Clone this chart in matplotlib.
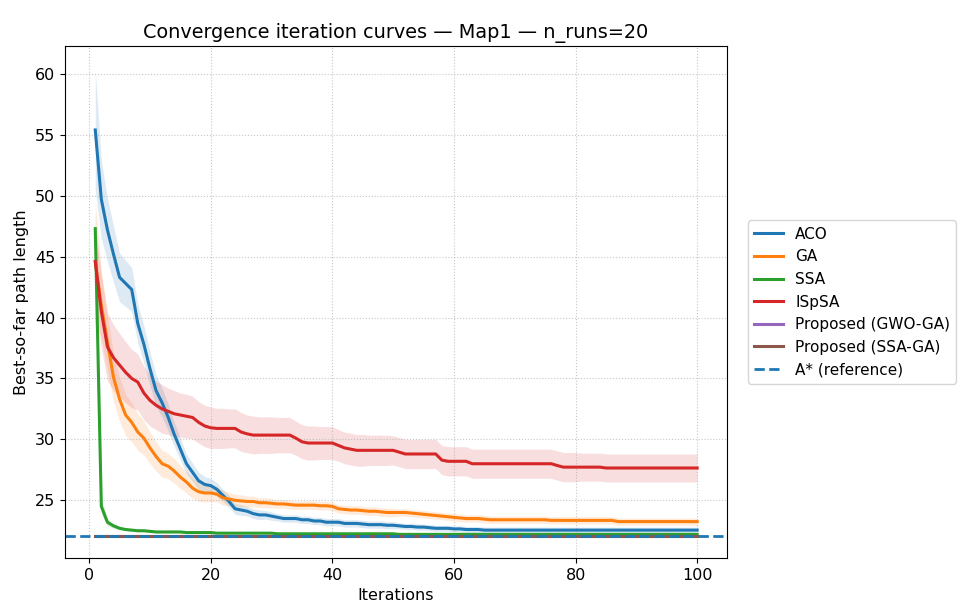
import numpy as np
import matplotlib
matplotlib.use("Agg")
import matplotlib.pyplot as plt

# iterations 1..100
iterations = list(range(1, 101))

# mean best-so-far path length per iteration
aco_mean = [
    55.4, 49.7, 47.2, 45.2, 43.3, 42.8, 42.3, 39.5, 37.8, 35.8,
    34.0, 33.0, 31.8, 30.4, 29.2, 28.0, 27.3, 26.6, 26.3, 26.2,
    25.9, 25.4, 24.9, 24.3, 24.2, 24.1, 23.9, 23.8, 23.8, 23.7,
    23.6, 23.5, 23.5, 23.5, 23.4, 23.4, 23.3, 23.3, 23.2, 23.2,
    23.2, 23.1, 23.1, 23.1, 23.05, 23.0, 23.0, 23.0, 22.95, 22.95,
    22.9, 22.85, 22.85, 22.8, 22.8, 22.75, 22.7, 22.7, 22.7, 22.65,
    22.65, 22.6, 22.6, 22.6, 22.55, 22.55, 22.55, 22.55, 22.55, 22.55,
    22.55, 22.55, 22.55, 22.55, 22.55, 22.55, 22.55, 22.55, 22.55, 22.55,
    22.55, 22.55, 22.55, 22.55, 22.55, 22.55, 22.55, 22.55, 22.55, 22.55,
    22.55, 22.55, 22.55, 22.55, 22.55, 22.55, 22.55, 22.55, 22.55, 22.55,
]
ga_mean = [
    44.6, 41.0, 38.0, 35.1, 33.3, 32.0, 31.4, 30.6, 30.1, 29.3,
    28.6, 28.0, 27.8, 27.4, 26.9, 26.5, 26.0, 25.7, 25.6, 25.6,
    25.5, 25.2, 25.1, 25.0, 24.95, 24.9, 24.9, 24.8, 24.8, 24.75,
    24.7, 24.7, 24.65, 24.6, 24.6, 24.6, 24.6, 24.55, 24.55, 24.5,
    24.3, 24.25, 24.2, 24.2, 24.15, 24.1, 24.1, 24.05, 24.0, 24.0,
    24.0, 24.0, 23.95, 23.9, 23.85, 23.8, 23.75, 23.7, 23.65, 23.6,
    23.55, 23.5, 23.5, 23.5, 23.45, 23.4, 23.4, 23.4, 23.4, 23.4,
    23.4, 23.4, 23.4, 23.4, 23.4, 23.35, 23.35, 23.35, 23.35, 23.35,
    23.35, 23.35, 23.35, 23.35, 23.35, 23.35, 23.25, 23.25, 23.25, 23.25,
    23.25, 23.25, 23.25, 23.25, 23.25, 23.25, 23.25, 23.25, 23.25, 23.25,
]
ssa_mean = [
    47.3, 24.5, 23.2, 22.9, 22.7, 22.6, 22.55, 22.5, 22.5, 22.45,
    22.4, 22.4, 22.4, 22.4, 22.4, 22.35, 22.35, 22.35, 22.35, 22.35,
    22.3, 22.3, 22.3, 22.3, 22.3, 22.3, 22.3, 22.3, 22.3, 22.3,
    22.25, 22.25, 22.25, 22.25, 22.25, 22.25, 22.25, 22.25, 22.25, 22.25,
    22.25, 22.25, 22.25, 22.25, 22.25, 22.25, 22.25, 22.25, 22.25, 22.25,
    22.2, 22.2, 22.2, 22.2, 22.2, 22.2, 22.2, 22.2, 22.2, 22.2,
    22.2, 22.2, 22.2, 22.2, 22.2, 22.2, 22.2, 22.2, 22.2, 22.2,
    22.2, 22.2, 22.2, 22.2, 22.2, 22.2, 22.2, 22.2, 22.2, 22.2,
    22.2, 22.2, 22.2, 22.2, 22.2, 22.2, 22.2, 22.2, 22.2, 22.2,
    22.2, 22.2, 22.2, 22.2, 22.2, 22.2, 22.2, 22.2, 22.2, 22.2,
]
ispsa_mean = [
    44.6, 40.5, 37.6, 36.7, 36.1, 35.5, 35.0, 34.7, 33.8, 33.2,
    32.8, 32.5, 32.3, 32.1, 32.0, 31.9, 31.8, 31.4, 31.1, 30.95,
    30.9, 30.9, 30.9, 30.9, 30.6, 30.45, 30.35, 30.35, 30.35, 30.35,
    30.35, 30.35, 30.35, 30.1, 29.8, 29.7, 29.7, 29.7, 29.7, 29.7,
    29.5, 29.3, 29.2, 29.1, 29.1, 29.1, 29.1, 29.1, 29.1, 29.1,
    28.95, 28.8, 28.8, 28.8, 28.8, 28.8, 28.8, 28.3, 28.2, 28.2,
    28.2, 28.2, 28.0, 28.0, 28.0, 28.0, 28.0, 28.0, 28.0, 28.0,
    28.0, 28.0, 28.0, 28.0, 28.0, 28.0, 27.85, 27.72, 27.72, 27.72,
    27.72, 27.72, 27.72, 27.72, 27.65, 27.65, 27.65, 27.65, 27.65, 27.65,
    27.65, 27.65, 27.65, 27.65, 27.65, 27.65, 27.65, 27.65, 27.65, 27.65,
]
gwo_ga_mean = [
    22.1, 22.1, 22.1, 22.1, 22.1, 22.1, 22.1, 22.1, 22.1, 22.1,
    22.1, 22.1, 22.1, 22.1, 22.1, 22.1, 22.1, 22.1, 22.1, 22.1,
    22.1, 22.1, 22.1, 22.1, 22.1, 22.1, 22.1, 22.1, 22.1, 22.1,
    22.1, 22.1, 22.1, 22.1, 22.1, 22.1, 22.1, 22.1, 22.1, 22.1,
    22.1, 22.1, 22.1, 22.1, 22.1, 22.1, 22.1, 22.1, 22.1, 22.1,
    22.1, 22.1, 22.1, 22.1, 22.1, 22.1, 22.1, 22.1, 22.1, 22.1,
    22.1, 22.1, 22.1, 22.1, 22.1, 22.1, 22.1, 22.1, 22.1, 22.1,
    22.1, 22.1, 22.1, 22.1, 22.1, 22.1, 22.1, 22.1, 22.1, 22.1,
    22.1, 22.1, 22.1, 22.1, 22.1, 22.1, 22.1, 22.1, 22.1, 22.1,
    22.1, 22.1, 22.1, 22.1, 22.1, 22.1, 22.1, 22.1, 22.1, 22.1,
]
ssa_ga_mean = [
    22.1, 22.1, 22.1, 22.1, 22.1, 22.1, 22.1, 22.1, 22.1, 22.1,
    22.1, 22.1, 22.1, 22.1, 22.1, 22.1, 22.1, 22.1, 22.1, 22.1,
    22.1, 22.1, 22.1, 22.1, 22.1, 22.1, 22.1, 22.1, 22.1, 22.1,
    22.1, 22.1, 22.1, 22.1, 22.1, 22.1, 22.1, 22.1, 22.1, 22.1,
    22.1, 22.1, 22.1, 22.1, 22.1, 22.1, 22.1, 22.1, 22.1, 22.1,
    22.1, 22.1, 22.1, 22.1, 22.1, 22.1, 22.1, 22.1, 22.1, 22.1,
    22.1, 22.1, 22.1, 22.1, 22.1, 22.1, 22.1, 22.1, 22.1, 22.1,
    22.1, 22.1, 22.1, 22.1, 22.1, 22.1, 22.1, 22.1, 22.1, 22.1,
    22.1, 22.1, 22.1, 22.1, 22.1, 22.1, 22.1, 22.1, 22.1, 22.1,
    22.1, 22.1, 22.1, 22.1, 22.1, 22.1, 22.1, 22.1, 22.1, 22.1,
]
astar_length = 22.1

# spread (std over the 20 runs) used for the shaded bands
aco_std = [
    4.9, 3.2, 2.6, 2.3, 2.0, 1.9, 1.8, 1.6, 1.5, 1.4,
    1.3, 1.2, 1.1, 1.0, 0.9, 0.8, 0.75, 0.7, 0.65, 0.6,
    0.55, 0.5, 0.5, 0.45, 0.45, 0.4, 0.4, 0.4, 0.35, 0.35,
    0.3, 0.3, 0.3, 0.3, 0.3, 0.3, 0.3, 0.3, 0.3, 0.3,
    0.3, 0.3, 0.3, 0.3, 0.3, 0.3, 0.3, 0.3, 0.3, 0.3,
    0.25, 0.25, 0.25, 0.25, 0.25, 0.25, 0.25, 0.25, 0.25, 0.25,
    0.25, 0.25, 0.25, 0.25, 0.25, 0.25, 0.25, 0.25, 0.25, 0.25,
    0.25, 0.25, 0.25, 0.25, 0.25, 0.25, 0.25, 0.25, 0.25, 0.25,
    0.25, 0.25, 0.25, 0.25, 0.25, 0.25, 0.25, 0.25, 0.25, 0.25,
    0.25, 0.25, 0.25, 0.25, 0.25, 0.25, 0.25, 0.25, 0.25, 0.25,
]
ga_std = [
    5.0, 2.8, 2.3, 2.0, 1.8, 1.7, 1.6, 1.5, 1.4, 1.3,
    1.2, 1.1, 1.05, 1.0, 0.95, 0.9, 0.85, 0.8, 0.75, 0.7,
    0.65, 0.6, 0.55, 0.5, 0.5, 0.45, 0.45, 0.4, 0.4, 0.4,
    0.35, 0.35, 0.35, 0.35, 0.35, 0.35, 0.35, 0.35, 0.35, 0.35,
    0.35, 0.35, 0.35, 0.35, 0.35, 0.35, 0.35, 0.35, 0.35, 0.35,
    0.3, 0.3, 0.3, 0.3, 0.3, 0.3, 0.3, 0.3, 0.3, 0.3,
    0.3, 0.3, 0.3, 0.3, 0.3, 0.3, 0.3, 0.3, 0.3, 0.3,
    0.3, 0.3, 0.3, 0.3, 0.3, 0.3, 0.3, 0.3, 0.3, 0.3,
    0.3, 0.3, 0.3, 0.3, 0.3, 0.3, 0.3, 0.3, 0.3, 0.3,
    0.3, 0.3, 0.3, 0.3, 0.3, 0.3, 0.3, 0.3, 0.3, 0.3,
]
ssa_std = [
    1.5, 0.6, 0.3, 0.2, 0.15, 0.1, 0.1, 0.1, 0.1, 0.1,
    0.1, 0.1, 0.1, 0.1, 0.1, 0.1, 0.1, 0.1, 0.1, 0.1,
    0.05, 0.05, 0.05, 0.05, 0.05, 0.05, 0.05, 0.05, 0.05, 0.05,
    0.05, 0.05, 0.05, 0.05, 0.05, 0.05, 0.05, 0.05, 0.05, 0.05,
    0.05, 0.05, 0.05, 0.05, 0.05, 0.05, 0.05, 0.05, 0.05, 0.05,
    0.05, 0.05, 0.05, 0.05, 0.05, 0.05, 0.05, 0.05, 0.05, 0.05,
    0.05, 0.05, 0.05, 0.05, 0.05, 0.05, 0.05, 0.05, 0.05, 0.05,
    0.05, 0.05, 0.05, 0.05, 0.05, 0.05, 0.05, 0.05, 0.05, 0.05,
    0.05, 0.05, 0.05, 0.05, 0.05, 0.05, 0.05, 0.05, 0.05, 0.05,
    0.05, 0.05, 0.05, 0.05, 0.05, 0.05, 0.05, 0.05, 0.05, 0.05,
]
ispsa_std = [
    3.0, 3.0, 2.8, 2.7, 2.6, 2.5, 2.4, 2.3, 2.2, 2.1,
    2.0, 2.0, 1.9, 1.9, 1.8, 1.8, 1.75, 1.7, 1.7, 1.7,
    1.65, 1.65, 1.6, 1.6, 1.6, 1.55, 1.55, 1.5, 1.5, 1.5,
    1.45, 1.45, 1.45, 1.4, 1.4, 1.4, 1.4, 1.35, 1.35, 1.35,
    1.3, 1.3, 1.3, 1.3, 1.3, 1.25, 1.25, 1.25, 1.25, 1.2,
    1.2, 1.2, 1.2, 1.2, 1.2, 1.2, 1.2, 1.2, 1.2, 1.2,
    1.2, 1.2, 1.2, 1.2, 1.2, 1.2, 1.2, 1.2, 1.2, 1.2,
    1.2, 1.2, 1.2, 1.2, 1.2, 1.2, 1.2, 1.2, 1.2, 1.2,
    1.15, 1.15, 1.15, 1.15, 1.15, 1.15, 1.15, 1.15, 1.15, 1.15,
    1.15, 1.15, 1.15, 1.15, 1.15, 1.15, 1.15, 1.15, 1.15, 1.15,
]

series = [
    ("ACO", aco_mean, aco_std, "C0"),
    ("GA", ga_mean, ga_std, "C1"),
    ("SSA", ssa_mean, ssa_std, "C2"),
    ("ISpSA", ispsa_mean, ispsa_std, "C3"),
    ("Proposed (GWO-GA)", gwo_ga_mean, None, "C4"),
    ("Proposed (SSA-GA)", ssa_ga_mean, None, "C5"),
]

plt.rcParams["font.size"] = 11.5

fig = plt.figure(figsize=(9.68, 6.12), dpi=100)
ax = fig.add_axes([0.067, 0.088, 0.684, 0.837])

x = np.array(iterations)
for name, mean, std, col in series:
    mean = np.array(mean)
    ax.plot(x, mean, color=col, linewidth=2.2, label=name)
    if std is not None:
        std = np.array(std)
        ax.fill_between(x, mean - std, mean + std, color=col, alpha=0.15, linewidth=0)

ax.axhline(astar_length, color="C0", linestyle="--", linewidth=2, label="A* (reference)")

ax.set_xlim(-4.0, 104.9)
ax.set_ylim(20.25, 62.3)
ax.set_xticks([0, 20, 40, 60, 80, 100])
ax.set_yticks([25, 30, 35, 40, 45, 50, 55, 60])
ax.grid(True, linestyle=":", linewidth=0.8, alpha=0.7)
ax.set_xlabel("Iterations")
ax.set_ylabel("Best-so-far path length")
ax.set_title("Convergence iteration curves — Map1 — n_runs=20", fontsize=13.9)
ax.legend(loc="center left", bbox_to_anchor=(1.02, 0.5), fontsize=11,
          labelspacing=0.5, handlelength=1.9)

fig.savefig("out.png", dpi=100)
